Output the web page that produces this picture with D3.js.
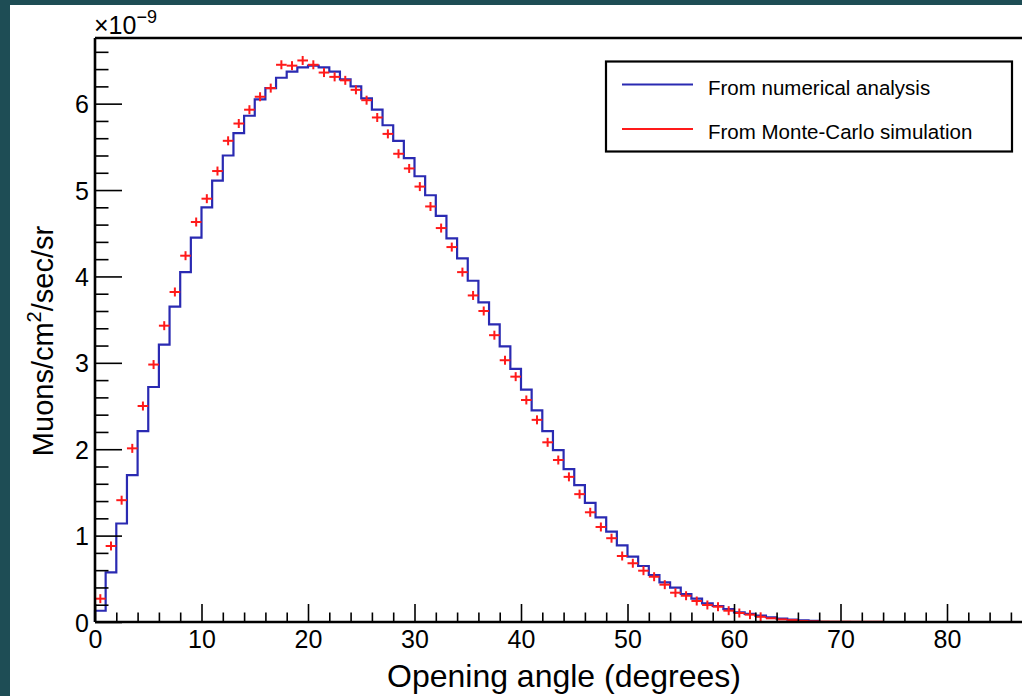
<!DOCTYPE html>
<html>
<head>
<meta charset="utf-8">
<script src="https://cdn.jsdelivr.net/npm/d3@7"></script>
<style>
  html, body { margin: 0; padding: 0; background: #1e4d55; }
  svg { display: block; }
  text { font-family: "Liberation Sans", Arial, Helvetica, sans-serif; fill: #000; }
</style>
</head>
<body>
<svg id="chart" width="1022" height="696"></svg>
<script>
// ---- Data (values in units of 1e-9) ----
const binWidth = 1; // degrees
const numericalValues = [
  0.13, 0.575, 1.14, 1.70, 2.21, 2.72, 3.21, 3.65, 4.05, 4.45,
  4.80, 5.11, 5.40, 5.66, 5.86, 6.05, 6.18, 6.30, 6.37, 6.42,
  6.44, 6.42, 6.37, 6.28, 6.20, 6.06, 5.93, 5.75, 5.57, 5.37,
  5.16, 4.94, 4.70, 4.44, 4.21, 3.95, 3.70, 3.445, 3.19, 2.93,
  2.69, 2.45, 2.21, 1.99, 1.77, 1.585, 1.38, 1.21, 1.045, 0.888,
  0.756, 0.648, 0.544, 0.459, 0.397, 0.324, 0.27, 0.216, 0.185, 0.15,
  0.112, 0.093, 0.073, 0.055, 0.04, 0.028, 0.018, 0.012
];
const monteCarloValues = [
  0.27, 0.88, 1.41, 2.01, 2.50, 2.98, 3.43, 3.82, 4.24, 4.63,
  4.90, 5.22, 5.57, 5.77, 5.93, 6.08, 6.18, 6.45, 6.44, 6.50,
  6.45, 6.36, 6.31, 6.27, 6.16, 6.04, 5.84, 5.65, 5.42, 5.25,
  5.04, 4.81, 4.56, 4.34, 4.05, 3.78, 3.60, 3.32, 3.03, 2.84,
  2.57, 2.34, 2.08, 1.875, 1.68, 1.48, 1.27, 1.10, 0.97, 0.764,
  0.68, 0.594, 0.524, 0.432, 0.339, 0.304, 0.243, 0.197, 0.177, 0.131,
  0.104, 0.085, 0.06, 0.043, 0.03, 0.022, 0.012, 0.008, 0.005, 0.004,
  0.004, 0.003, 0.003, 0.003
];
const xMajorTicks = [0, 10, 20, 30, 40, 50, 60, 70, 80];
const yMajorTicks = [0, 1, 2, 3, 4, 5, 6];
const legendLabels = ["From numerical analysis", "From Monte-Carlo simulation"];
const xTitle = "Opening angle (degrees)";

(function () {
  const svg = d3.select("#chart");
  const W = 1022, H = 696;
  const plotLeft = 95, plotTop = 38, plotBottom = 622;
  const pxPerDeg = 10.65;
  const xMax = 90, yMax = 6.76;

  svg.append("rect").attr("x", 10).attr("y", 5).attr("width", W - 10).attr("height", H - 5).attr("fill", "#fff");

  const x = d3.scaleLinear().domain([0, xMax]).range([plotLeft, plotLeft + xMax * pxPerDeg]);
  const y = d3.scaleLinear().domain([0, yMax]).range([plotBottom, plotTop]);

  const blue = "#2a2ab2", red = "#ff1a1a";

  // ---- Blue step histogram ----
  const stepPts = [[0, 0]];
  numericalValues.forEach((v, i) => { stepPts.push([i * binWidth, v]); stepPts.push([(i + 1) * binWidth, v]); });
  stepPts.push([numericalValues.length * binWidth, 0]);
  svg.append("path")
    .attr("d", d3.line().x(d => x(d[0])).y(d => y(d[1]))(stepPts))
    .attr("fill", "none").attr("stroke", blue).attr("stroke-width", 2.2);

  // ---- Red MC points with error bars ----
  const mc = svg.append("g").attr("stroke", red).attr("stroke-width", 2);
  monteCarloValues.forEach((v, i) => {
    const cx = x((i + 0.5) * binWidth), cy = y(v);
    mc.append("line").attr("x1", x(i * binWidth)).attr("x2", x((i + 1) * binWidth)).attr("y1", cy).attr("y2", cy);
    if (v > 0.05) mc.append("line").attr("x1", cx).attr("x2", cx).attr("y1", cy - 4.5).attr("y2", cy + 4.5);
  });

  // ---- Axes ----
  const axisG = svg.append("g");
  const xMinor = d3.range(0, xMax + 0.01, 2).filter(t => t % 10 !== 0);
  const yMinor = d3.range(0, yMax, 0.2).map(t => +t.toFixed(1)).filter(t => Math.abs(t - Math.round(t)) > 0.01);

  const xAxis = d3.axisBottom(x).tickValues(xMajorTicks).tickSize(-18).tickPadding(0).tickFormat(d3.format("d"));
  const xAxisMinor = d3.axisBottom(x).tickValues(xMinor).tickSize(-9.5).tickFormat("");
  const gx = axisG.append("g").attr("transform", `translate(0,${plotBottom})`).call(xAxis);
  axisG.append("g").attr("transform", `translate(0,${plotBottom})`).call(xAxisMinor);
  gx.selectAll("text").attr("font-size", 25).attr("y", 26).attr("dy", 0).attr("fill", "#000");

  const yAxis = d3.axisLeft(y).tickValues(yMajorTicks).tickSize(-27).tickFormat(d3.format("d"));
  const yAxisMinor = d3.axisLeft(y).tickValues(yMinor).tickSize(-13.5).tickFormat("");
  const gy = axisG.append("g").attr("transform", `translate(${plotLeft},0)`).call(yAxis);
  axisG.append("g").attr("transform", `translate(${plotLeft},0)`).call(yAxisMinor);
  gy.selectAll("text").attr("font-size", 25).attr("x", -6).attr("dy", "0.36em").attr("fill", "#000");

  axisG.selectAll(".tick line").attr("stroke", "#000").attr("stroke-width", 1.6);
  axisG.selectAll(".domain").remove();

  // frame
  const frame = svg.append("g").attr("stroke", "#000").attr("stroke-width", 2.6).attr("fill", "none");
  frame.append("line").attr("x1", plotLeft).attr("x2", x(xMax)).attr("y1", plotBottom).attr("y2", plotBottom);
  frame.append("line").attr("x1", plotLeft).attr("x2", plotLeft).attr("y1", plotTop).attr("y2", plotBottom);
  frame.append("line").attr("x1", plotLeft).attr("x2", x(xMax)).attr("y1", plotTop).attr("y2", plotTop);

  // exponent label
  const ex = svg.append("text").attr("x", 94).attr("y", 34).attr("font-size", 25);
  ex.append("tspan").text("\u00d710");
  ex.append("tspan").attr("dy", -11).attr("font-size", 18).text("\u22129");

  // titles
  svg.append("text").attr("x", 564).attr("y", 687).attr("text-anchor", "middle").attr("font-size", 32).text(xTitle);
  const yt = svg.append("text").attr("transform", "translate(53,341) rotate(-90)").attr("text-anchor", "middle").attr("font-size", 29);
  yt.append("tspan").text("Muons/cm");
  yt.append("tspan").attr("dy", -12).attr("font-size", 20).text("2");
  yt.append("tspan").attr("dy", 12).text("/sec/sr");

  // ---- Legend ----
  const lg = svg.append("g");
  lg.append("rect").attr("x", 606).attr("y", 61.5).attr("width", 406).attr("height", 90)
    .attr("fill", "#fff").attr("stroke", "#000").attr("stroke-width", 2.2);
  const legendColors = [blue, red];
  const legendY = [84.5, 129];
  legendLabels.forEach((lab, i) => {
    lg.append("line").attr("x1", 622).attr("x2", 693).attr("y1", legendY[i]).attr("y2", legendY[i])
      .attr("stroke", legendColors[i]).attr("stroke-width", 1.8);
    lg.append("text").attr("x", 708).attr("y", legendY[i] + 10).attr("font-size", 20.5).text(lab);
  });
})();
</script>
</body>
</html>
